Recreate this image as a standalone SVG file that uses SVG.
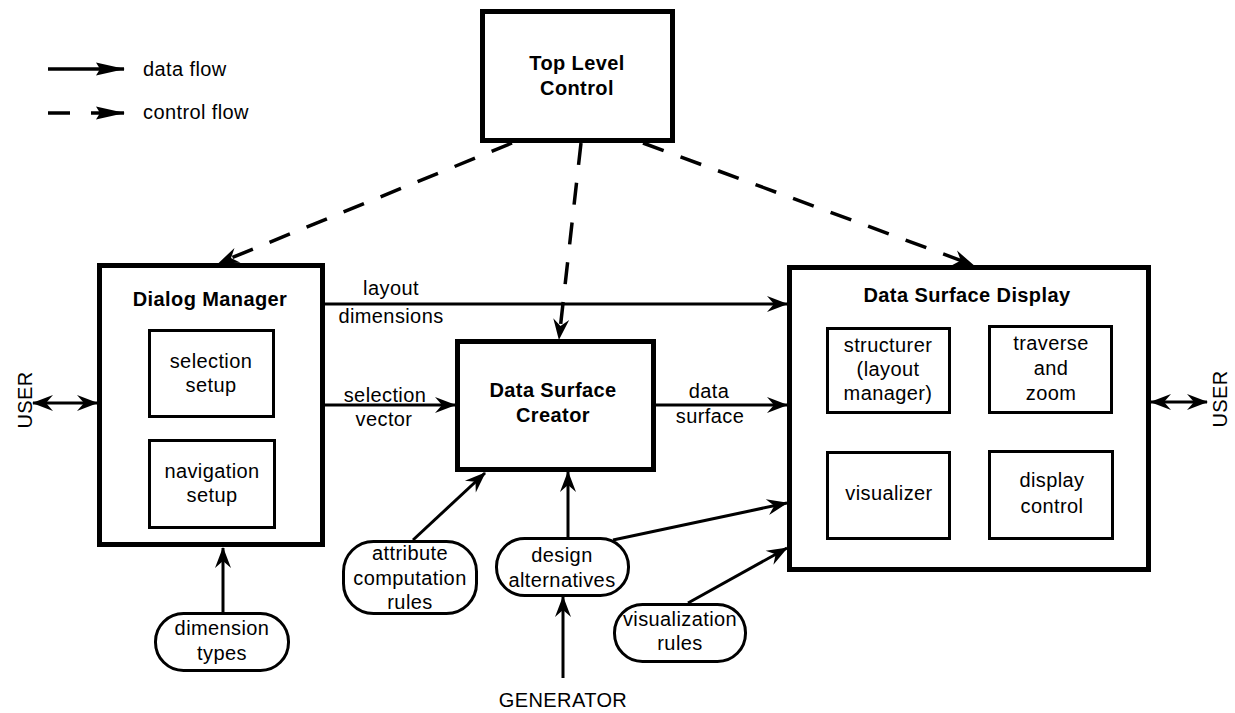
<svg xmlns="http://www.w3.org/2000/svg" width="1235" height="713" viewBox="0 0 1235 713">
  <style>
    .box { fill: #fff; stroke: #000; stroke-width: 5; }
    .inner { fill: none; stroke: #000; stroke-width: 3; }
    .pill { fill: #fff; stroke: #000; stroke-width: 3; }
    text { font-family: "Liberation Sans", Arial, sans-serif; font-size: 20px; letter-spacing: 0.4px; fill: #000; text-anchor: middle; }
    .b { font-weight: bold; }
    .st { text-anchor: start; }
    .flow { fill: none; stroke: #000; stroke-width: 3; marker-end: url(#ah); }
    .ctrl { fill: none; stroke: #000; stroke-width: 3.5; stroke-dasharray: 22 18; marker-end: url(#ah); }
    .dbl { fill: none; stroke: #000; stroke-width: 3; marker-start: url(#ah); marker-end: url(#ah); }
    .leg { fill: none; stroke: #000; stroke-width: 3.5; }
  </style>
  <defs>
    <marker id="ah" markerUnits="userSpaceOnUse" viewBox="-22 -10 24 20" refX="0" refY="0" markerWidth="24" markerHeight="20" orient="auto-start-reverse" overflow="visible">
      <path d="M1,0 L-20,-8 L-13,0 L-20,8 Z" fill="#000"/>
    </marker>
    <marker id="lh" markerUnits="userSpaceOnUse" viewBox="-30 -8 32 16" refX="0" refY="0" markerWidth="32" markerHeight="16" orient="auto" overflow="visible">
      <path d="M1,0 L-28,-6.5 L-24,0 L-28,6.5 Z" fill="#000"/>
    </marker>
  </defs>

  <g id="legend">
    <line class="leg" x1="48" y1="69" x2="124" y2="69" marker-end="url(#lh)"/>
    <text class="st" x="143" y="76">data flow</text>
    <line class="leg" x1="48" y1="113" x2="70" y2="113"/>
    <line class="leg" x1="91" y1="113" x2="124" y2="113" marker-end="url(#lh)"/>
    <text class="st" x="143" y="119">control flow</text>
  </g>

  <g id="connectors">
    <line class="ctrl" x1="512" y1="143" x2="219" y2="263"/>
    <line class="ctrl" x1="581" y1="143" x2="559" y2="339"/>
    <line class="ctrl" x1="643" y1="143" x2="973" y2="265"/>
    <line class="flow" x1="325" y1="304" x2="787" y2="304"/>
    <line class="flow" x1="325" y1="405" x2="455" y2="405"/>
    <line class="flow" x1="656" y1="405" x2="787" y2="405"/>
    <line class="flow" x1="223" y1="612" x2="223" y2="548"/>
    <line class="flow" x1="413" y1="540" x2="485" y2="473"/>
    <line class="flow" x1="568" y1="537" x2="568" y2="472"/>
    <line class="flow" x1="563" y1="678" x2="563" y2="597"/>
    <line class="flow" x1="613" y1="540" x2="787" y2="503"/>
    <line class="flow" x1="688" y1="603" x2="787" y2="548"/>
    <line class="dbl" x1="33" y1="403" x2="97" y2="403"/>
    <line class="dbl" x1="1151" y1="402" x2="1207" y2="402"/>
    <text x="391" y="295">layout</text>
    <text x="391" y="323">dimensions</text>
    <text x="385" y="402">selection</text>
    <text x="384" y="426">vector</text>
    <text x="709" y="398">data</text>
    <text x="710" y="423">surface</text>
    <text transform="translate(32,400) rotate(-90)">USER</text>
    <text transform="translate(1227,399) rotate(-90)">USER</text>
    <text x="563" y="707">GENERATOR</text>
  </g>

  <g id="top-level-control">
    <rect class="box" x="482.5" y="11.5" width="190" height="129"/>
    <text class="b" x="577" y="70">Top Level</text>
    <text class="b" x="577" y="95">Control</text>
  </g>

  <g id="dialog-manager">
    <rect class="box" x="99.5" y="265.5" width="223" height="279"/>
    <text class="b" x="210" y="306">Dialog Manager</text>
    <g id="selection-setup">
      <rect class="inner" x="149.5" y="330.5" width="124" height="86"/>
      <text x="211" y="368">selection</text>
      <text x="211" y="392">setup</text>
    </g>
    <g id="navigation-setup">
      <rect class="inner" x="149.5" y="440.5" width="125" height="87"/>
      <text x="212" y="478">navigation</text>
      <text x="212" y="502">setup</text>
    </g>
  </g>

  <g id="data-surface-creator">
    <rect class="box" x="457.5" y="341.5" width="196" height="128"/>
    <text class="b" x="553" y="397">Data Surface</text>
    <text class="b" x="553" y="422">Creator</text>
  </g>

  <g id="data-surface-display">
    <rect class="box" x="789.5" y="267.5" width="359" height="302"/>
    <text class="b" x="967" y="302">Data Surface Display</text>
    <g id="structurer">
      <rect class="inner" x="827.5" y="328.5" width="122" height="84"/>
      <text x="888" y="352">structurer</text>
      <text x="888" y="376">(layout</text>
      <text x="888" y="400">manager)</text>
    </g>
    <g id="traverse-zoom">
      <rect class="inner" x="989.5" y="326.5" width="122" height="86"/>
      <text x="1051" y="350">traverse</text>
      <text x="1051" y="375">and</text>
      <text x="1051" y="400">zoom</text>
    </g>
    <g id="visualizer">
      <rect class="inner" x="827.5" y="452.5" width="122" height="86"/>
      <text x="889" y="500">visualizer</text>
    </g>
    <g id="display-control">
      <rect class="inner" x="989.5" y="451.5" width="123" height="87"/>
      <text x="1052" y="487">display</text>
      <text x="1052" y="513">control</text>
    </g>
  </g>

  <g id="dimension-types">
    <rect class="pill" x="155.5" y="613.5" width="133" height="57" rx="28" ry="28"/>
    <text x="222" y="635">dimension</text>
    <text x="222" y="660">types</text>
  </g>

  <g id="attribute-computation-rules">
    <rect class="pill" x="343.5" y="541.5" width="133" height="72" rx="30" ry="30"/>
    <text x="410" y="560">attribute</text>
    <text x="410" y="585">computation</text>
    <text x="410" y="609">rules</text>
  </g>

  <g id="design-alternatives">
    <rect class="pill" x="496.5" y="538.5" width="132" height="57" rx="28" ry="28"/>
    <text x="562" y="562">design</text>
    <text x="562" y="587">alternatives</text>
  </g>

  <g id="visualization-rules">
    <rect class="pill" x="614.5" y="604.5" width="131" height="57" rx="28" ry="28"/>
    <text x="680" y="626">visualization</text>
    <text x="680" y="650">rules</text>
  </g>
</svg>
